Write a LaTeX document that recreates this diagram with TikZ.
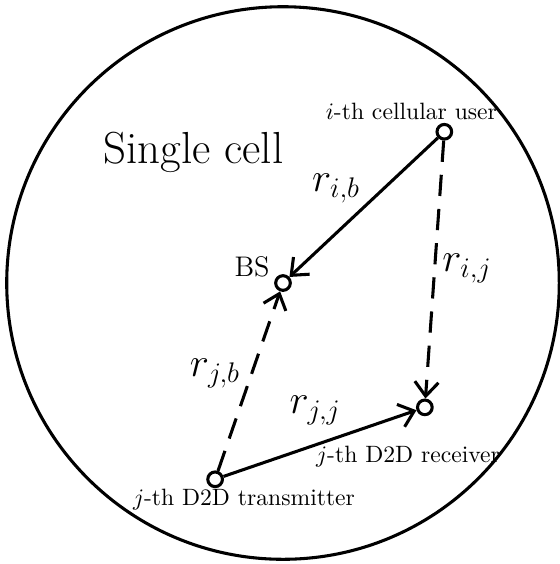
\documentclass[tikz,border=0pt]{standalone}
\usepackage{amsmath,amssymb}
\usepackage{tikz}
\usetikzlibrary{arrows.meta}

\begin{document}
\begin{tikzpicture}[
  font=\normalsize,
  term/.style={
    draw=black,
    line width=1.3pt,
    circle,
    fill=white,
    inner sep=0pt,
    minimum size=6.2pt
  },
  dist/.style={font=\LARGE},
  link/.style={-{Straight Barb[length=6pt,width=10pt]}, line width=1.3pt, draw=black},
  cross/.style={link, dash pattern=on 9pt off 5.5pt}
]
  \useasboundingbox (-4.21,-4.18) rectangle (4.12,4.21);
  \draw[line width=1.3pt] (0,0) circle (4.11);

  \node[term] (bs) at (0,0) {};
  \node[term] (cu) at (2.40,2.25) {};
  \node[term] (rx) at (2.11,-1.85) {};
  \node[term] (tx) at (-1.01,-2.92) {};

  \node (cell) at (-1.33,1.95) {\fontsize{19pt}{23pt}\selectfont Single cell};
  \node[font=\large] (bslab) at (-0.46,0.24) {BS};
  \node (culab) at (1.91,2.55) {$i$-th cellular user};
  \node (rxlab) at (1.86,-2.58) {$j$-th D2D receiver};
  \node (txlab) at (-0.58,-3.22) {$j$-th D2D transmitter};

  \node[dist] (rib) at (0.79,1.40) {$r_{i,b}$};
  \node[dist] (rij) at (2.74,0.22) {$r_{i,j}$};
  \node[dist] (rjb) at (-1.01,-1.35) {$r_{j,b}$};
  \node[dist] (rjj) at (0.48,-1.90) {$r_{j,j}$};

  \draw[link] (cu) -- (bs);
  \draw[cross] (cu) -- (rx);
  \draw[cross] (tx) -- (bs);
  \draw[link] (tx) -- (rx);
\end{tikzpicture}
\end{document}
